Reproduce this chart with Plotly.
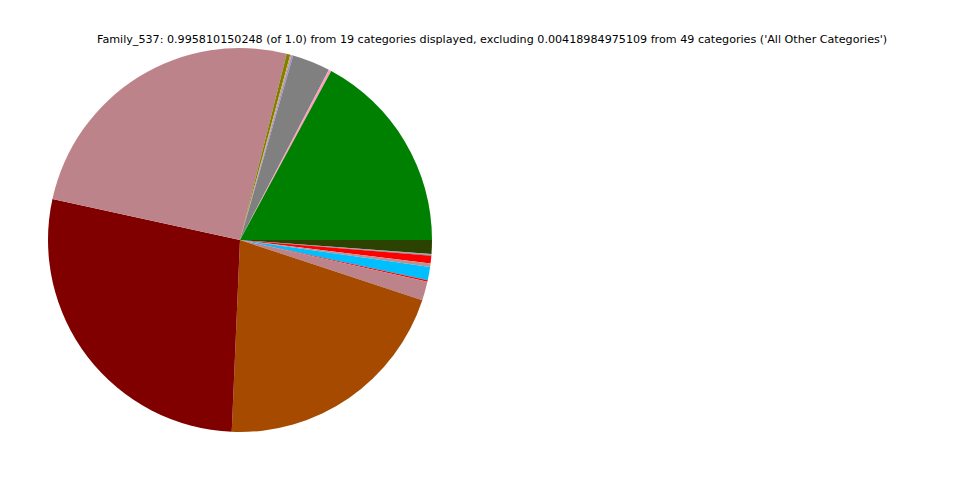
import plotly.graph_objects as go

labels = ["Cat A", "Cat B", "Cat C", "Cat D", "Cat E", "Cat F", "Cat G", "Cat H",
          "Cat I", "Cat J", "Cat K", "Cat L", "Cat M", "Cat N", "Cat O", "Cat P",
          "Cat Q", "Cat R", "Cat S"]
values = [0.1705, 0.0022, 0.0318, 0.0014, 0.0011, 0.0030, 0.2538, 0.2763,
          0.2052, 0.0158, 0.0014, 0.0111, 0.0028, 0.0064, 0.0008, 0.0003,
          0.0002, 0.0002, 0.0116]
colors = ["#008000", "#ff9ec0", "#808080", "#9f90d0", "#d4a050", "#808000", "#bc838a", "#800000",
          "#a64a00", "#bc838a", "#ff0000", "#00bfff", "#c09090", "#ff0000", "#5f80a0", "#888888",
          "#aaaaaa", "#666666", "#2b4200"]
title = ("Family_537: 0.995810150248 (of 1.0) from 19 categories displayed, excluding "
         "0.00418984975109 from 49 categories ('All Other Categories')")

# drawn clockwise from 3 o'clock in reverse order == counterclockwise from 3 o'clock
fig = go.Figure(go.Pie(
    labels=labels[::-1], values=values[::-1], sort=False, direction="clockwise",
    rotation=90, textinfo="none", hoverinfo="label+value",
    marker=dict(colors=colors[::-1], line=dict(width=0)),
    domain=dict(x=[40/960, 424/960], y=[56/480, 440/480]),
    showlegend=False,
))
fig.update_layout(
    width=960, height=480, margin=dict(l=0, r=0, t=0, b=0),
    paper_bgcolor="white", plot_bgcolor="white",
    annotations=[dict(text=title, x=484/960, y=1 - 32/480, xref="paper", yref="paper",
                      showarrow=False, xanchor="center", yanchor="middle",
                      font=dict(family="DejaVu Sans", size=11.15, color="black"))],
)
fig.write_html("out.html")
